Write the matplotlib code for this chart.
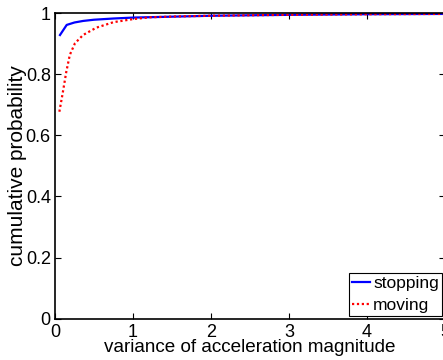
import matplotlib
matplotlib.use('Agg')
import matplotlib.pyplot as plt

plt.rcParams['font.family'] = ['Liberation Sans', 'DejaVu Sans']

# cumulative distributions
stop_x = [0.064, 0.15, 0.25, 0.36, 0.5, 0.75, 1.0, 1.5, 2.0, 3.0, 4.0, 5.0]
stop_y = [0.928, 0.961, 0.969, 0.974, 0.978, 0.982, 0.985, 0.988, 0.991, 0.994, 0.996, 0.997]

move_x = [0.056, 0.098, 0.145, 0.19, 0.256, 0.36, 0.53, 0.75, 1.0, 1.22, 1.6, 2.0, 3.0, 4.0, 5.0]
move_y = [0.677, 0.737, 0.808, 0.863, 0.901, 0.928, 0.952, 0.970, 0.980, 0.986, 0.989, 0.991, 0.994, 0.996, 0.997]

fig = plt.figure(figsize=(4.43, 3.6), dpi=100)
ax = fig.add_axes([55 / 443, 41.3 / 360, 390 / 443, 305.7 / 360])

ax.plot(stop_x, stop_y, color='#0000ff', lw=1.6, label='stopping')
ax.plot(move_x, move_y, color='#ff0000', lw=1.6, ls=(0, (1, 1.2)), label='moving')

ax.set_xlim(0, 5)
ax.set_ylim(0, 1)
ax.set_xticks([0, 1, 2, 3, 4, 5])
ax.set_yticks([0, 0.2, 0.4, 0.6, 0.8, 1])
ax.set_yticklabels(['0', '0.2', '0.4', '0.6', '0.8', '1'])
ax.tick_params(direction='in', top=True, right=True, labelsize=13, length=4, width=0.8)
ax.tick_params(axis='x', pad=3.5)
ax.tick_params(axis='y', pad=3)
for s in ax.spines.values():
    s.set_linewidth(1.2)

ax.set_xlabel('variance of acceleration magnitude', fontsize=13.6, labelpad=-1)
ax.set_ylabel('cumulative probability', fontsize=15, labelpad=-1)

leg = ax.legend(loc='lower right', fontsize=12.5, handlelength=1.0, handletextpad=0.2,
                borderpad=0.2, labelspacing=0.35, borderaxespad=0.15, fancybox=False,
                framealpha=1, edgecolor='black')
leg.get_frame().set_linewidth(0.8)

fig.savefig('out.png', dpi=100)
